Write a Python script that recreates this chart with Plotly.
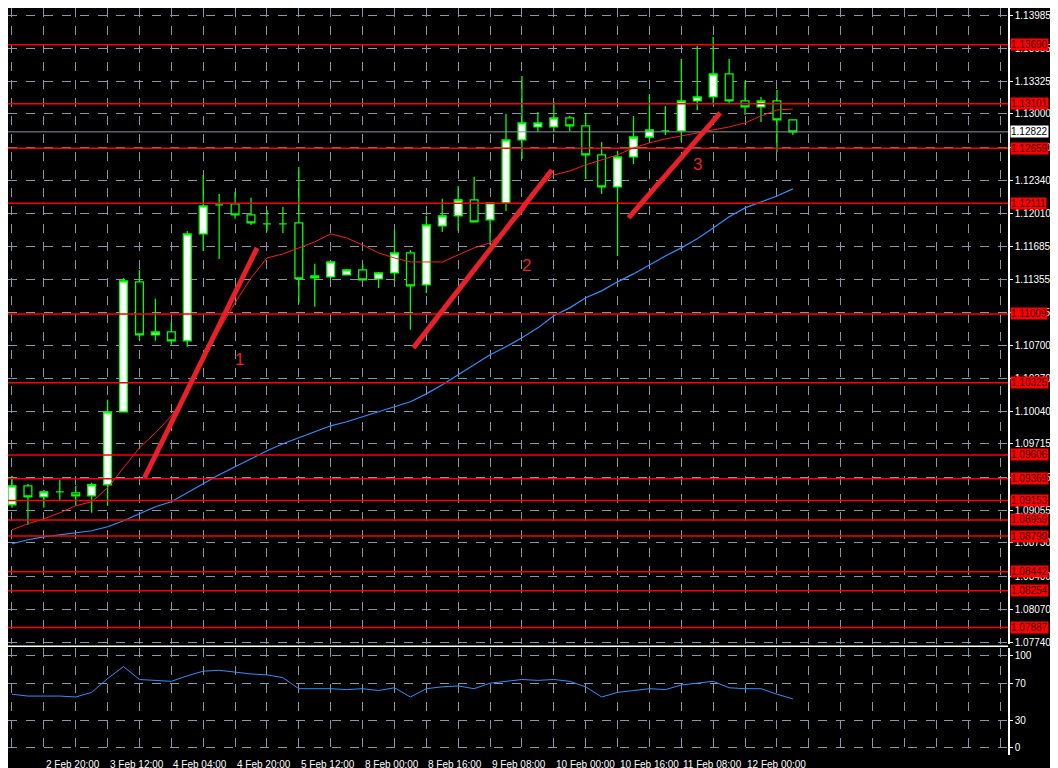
import plotly.graph_objects as go

# 4h bars, index 0..49
opens = [1.09110, 1.09299, 1.09189, 1.09239, 1.09229, 1.09199, 1.09309, 1.10035, 1.11329, 1.10801,
         1.10831, 1.10742, 1.11806, 1.12095, 1.12105, 1.11995, 1.11906, 1.11906, 1.11916, 1.11368,
         1.11378, 1.11398, 1.11448, 1.11358, 1.11418, 1.11617, 1.11299, 1.11886, 1.11986, 1.12145,
         1.11946, 1.12115, 1.12742, 1.12871, 1.12871, 1.12961, 1.12881, 1.12593, 1.12274, 1.12573,
         1.12771, 1.12831, 1.12831, 1.13130, 1.13170, 1.13399, 1.13130, 1.13070, 1.13130, 1.12941]
highs = [1.09398, 1.09319, 1.09259, 1.09359, 1.09299, 1.09329, 1.10155, 1.11368, 1.11448, 1.11160,
         1.10931, 1.11836, 1.12393, 1.12204, 1.12224, 1.12165, 1.12045, 1.12075, 1.12473, 1.11508,
         1.11537, 1.11458, 1.11508, 1.11428, 1.11846, 1.11647, 1.11986, 1.12155, 1.12284, 1.12374,
         1.12115, 1.13000, 1.13378, 1.13020, 1.13120, 1.12980, 1.13010, 1.12722, 1.12632, 1.12980,
         1.13199, 1.13080, 1.13548, 1.13677, 1.13766, 1.13548, 1.13329, 1.13170, 1.13239, 1.12941]
lows = [1.09080, 1.08911, 1.09080, 1.09150, 1.09100, 1.09030, 1.09100, 1.10035, 1.10752, 1.10742,
        1.10702, 1.10682, 1.11637, 1.11557, 1.11956, 1.11896, 1.11836, 1.11816, 1.11120, 1.11080,
        1.11368, 1.11398, 1.11348, 1.11269, 1.11338, 1.10851, 1.11219, 1.11826, 1.11836, 1.11926,
        1.11697, 1.12035, 1.12553, 1.12821, 1.12821, 1.12831, 1.12354, 1.12204, 1.11587, 1.12503,
        1.12732, 1.12791, 1.12732, 1.13040, 1.13100, 1.13110, 1.12990, 1.12921, 1.12622, 1.12791]
closes = [1.09299, 1.09189, 1.09239, 1.09239, 1.09199, 1.09309, 1.10035, 1.11338, 1.10801, 1.10831,
          1.10742, 1.11806, 1.12085, 1.12095, 1.11995, 1.11916, 1.11906, 1.11906, 1.11358, 1.11388,
          1.11527, 1.11448, 1.11348, 1.11418, 1.11617, 1.11289, 1.11896, 1.11986, 1.12145, 1.11926,
          1.12115, 1.12742, 1.12911, 1.12911, 1.12961, 1.12881, 1.12593, 1.12274, 1.12573, 1.12771,
          1.12841, 1.12831, 1.13130, 1.13170, 1.13399, 1.13130, 1.13070, 1.13130, 1.12941, 1.12821]

ma_fast = [1.08861, 1.08921, 1.08970, 1.09030, 1.09100, 1.09140, 1.09279, 1.09478, 1.09677, 1.09826,
           1.09995, 1.10224, 1.10573, 1.10851, 1.11120, 1.11368, 1.11567, 1.11607, 1.11667, 1.11727,
           1.11806, 1.11766, 1.11697, 1.11617, 1.11567, 1.11527, 1.11527, 1.11527, 1.11597, 1.11667,
           1.11717, 1.11846, 1.12015, 1.12264, 1.12393, 1.12433, 1.12493, 1.12543, 1.12593, 1.12662,
           1.12712, 1.12752, 1.12781, 1.12811, 1.12841, 1.12871, 1.12911, 1.12980, 1.13040, 1.13050]
ma_slow = [1.08722, 1.08762, 1.08791, 1.08811, 1.08831, 1.08851, 1.08891, 1.08951, 1.09020, 1.09090,
           1.09140, 1.09229, 1.09319, 1.09408, 1.09488, 1.09567, 1.09647, 1.09717, 1.09776, 1.09836,
           1.09896, 1.09936, 1.09985, 1.10035, 1.10085, 1.10135, 1.10214, 1.10304, 1.10404, 1.10503,
           1.10603, 1.10682, 1.10772, 1.10871, 1.10991, 1.11070, 1.11170, 1.11239, 1.11329, 1.11408,
           1.11498, 1.11587, 1.11667, 1.11757, 1.11866, 1.11976, 1.12065, 1.12125, 1.12184, 1.12254]
osc = [58, 56, 56, 56, 55, 60, 75, 88, 74, 73, 72, 78, 83, 84, 82, 80, 79, 76, 64, 64,
       64, 63, 64, 62, 65, 55, 64, 66, 67, 64, 70, 72, 74, 73, 74, 72, 66, 55, 60, 62,
       64, 63, 68, 70, 72, 65, 64, 64, 58, 53]

levels = [1.13690, 1.13101, 1.12659, 1.12111, 1.11009, 1.10325, 1.09606, 1.09369,
          1.09153, 1.08959, 1.08799, 1.08442, 1.08254, 1.07887]
last_price = 1.12822
price_ticks = [1.13985, 1.13655, 1.13325, 1.13000, 1.12670, 1.12340, 1.12010, 1.11685, 1.11355,
               1.11025, 1.10700, 1.10370, 1.10040, 1.09715, 1.09385, 1.09055, 1.08730,
               1.08400, 1.08070, 1.07740]
osc_ticks = [0, 30, 70, 100]

time_pos = [-2, 2, 6, 10, 14, 18, 22, 26, 30, 34, 38, 42, 46]
time_labels = ["2 Feb 04:00", "2 Feb 20:00", "3 Feb 12:00", "4 Feb 04:00", "4 Feb 20:00",
               "5 Feb 12:00", "8 Feb 00:00", "8 Feb 16:00", "9 Feb 08:00", "10 Feb 00:00",
               "10 Feb 16:00", "11 Feb 08:00", "12 Feb 00:00"]

trend_x = [(8.31, 15.38), (25.19, 33.88), (38.69, 44.44)]
trend_y = [(1.09378, 1.11667), (1.10672, 1.12443), (1.11966, 1.13010)]
wave_x = [14.3, 32.3, 43.0]
wave_y = [1.10553, 1.11488, 1.12493]
wave_text = ["1", "2", "3"]

bars = list(range(len(opens)))
GRID = "#8a96a4"
FONT = "Liberation Sans"

fig = go.Figure()
fig.add_trace(go.Scatter(x=bars, y=ma_slow, mode="lines", line=dict(color="#2f8fff", width=1.2),
                         hoverinfo="skip"))
fig.add_trace(go.Scatter(x=bars, y=ma_fast, mode="lines", line=dict(color="#ff1a1a", width=1),
                         hoverinfo="skip"))
fig.add_trace(go.Candlestick(x=bars, open=opens, high=highs, low=lows, close=closes,
                             increasing=dict(fillcolor="white", line=dict(color="#00ff00", width=1.3)),
                             decreasing=dict(fillcolor="black", line=dict(color="#00ff00", width=1.3)),
                             whiskerwidth=0))
fig.add_trace(go.Scatter(x=bars, y=osc, mode="lines", line=dict(color="#2f8fff", width=1),
                         xaxis="x2", yaxis="y2", hoverinfo="skip"))

for lv in levels:
    fig.add_shape(type="line", xref="paper", x0=0, x1=1, yref="y", y0=lv, y1=lv,
                  line=dict(color="#ff0000", width=1.5))
    fig.add_annotation(xref="paper", x=1.002, yref="y", y=lv, text=f"{lv:.5f}", showarrow=False,
                       xanchor="left", bgcolor="#ff0000", font=dict(color="#300000", size=10, family=FONT),
                       borderpad=0)
fig.add_shape(type="line", xref="paper", x0=0, x1=1, yref="y", y0=last_price, y1=last_price,
              line=dict(color="#8a96a4", width=1))
fig.add_annotation(xref="paper", x=1.002, yref="y", y=last_price, text=f"{last_price:.5f}",
                   showarrow=False, xanchor="left", bgcolor="white",
                   font=dict(color="black", size=10, family=FONT), borderpad=0)

for (x0, x1), (y0, y1) in zip(trend_x, trend_y):
    fig.add_shape(type="line", x0=x0, x1=x1, y0=y0, y1=y1, xref="x", yref="y",
                  line=dict(color="#e8202a", width=5))
for x, y, t in zip(wave_x, wave_y, wave_text):
    fig.add_annotation(x=x, y=y, text=t, showarrow=False, font=dict(color="#e8202a", size=17, family=FONT))

for p, t in zip(time_pos, time_labels):
    fig.add_annotation(x=p, xref="x2", yref="paper", y=-0.003, yanchor="top", xanchor="left",
                       text=t, showarrow=False, font=dict(color="white", size=10, family=FONT))

# pane separator
fig.add_shape(type="line", xref="paper", x0=0, x1=1.0, yref="paper", y0=0.1455, y1=0.1455,
              line=dict(color="white", width=1.5))

xr = [-0.25, 62.5]
fig.update_layout(
    width=1058, height=768, paper_bgcolor="black", plot_bgcolor="black",
    margin=dict(l=0, r=58, t=0, b=21), showlegend=False,
    font=dict(family=FONT, color="white", size=10),
    xaxis=dict(range=xr, tickvals=list(range(0, 64, 2)), showticklabels=False, showgrid=True,
               gridcolor=GRID, griddash="dash", gridwidth=1, zeroline=False,
               rangeslider=dict(visible=False), anchor="y", domain=[0, 1]),
    yaxis=dict(domain=[0.149, 1], range=[1.07727, 1.14055], side="right", tickvals=price_ticks,
               ticktext=[f"{v:.5f}" for v in price_ticks], showgrid=True, gridcolor=GRID,
               griddash="dash", showline=True, linecolor="white", linewidth=1.5, ticks="outside",
               ticklen=3, tickcolor="white", zeroline=False, tickfont=dict(size=10, family=FONT)),
    xaxis2=dict(range=xr, tickvals=list(range(0, 64, 2)), showticklabels=False, showgrid=True,
                gridcolor=GRID, griddash="dash", zeroline=False, anchor="y2", domain=[0, 1]),
    yaxis2=dict(domain=[0, 0.143], range=[-8, 108], side="right", tickvals=osc_ticks,
                showgrid=True, gridcolor=GRID, griddash="dash", showline=True, linecolor="white",
                linewidth=1.5, ticks="outside", ticklen=3, tickcolor="white", zeroline=False,
                anchor="x2", tickfont=dict(size=10, family=FONT)),
)

fig.write_html("out.html")
